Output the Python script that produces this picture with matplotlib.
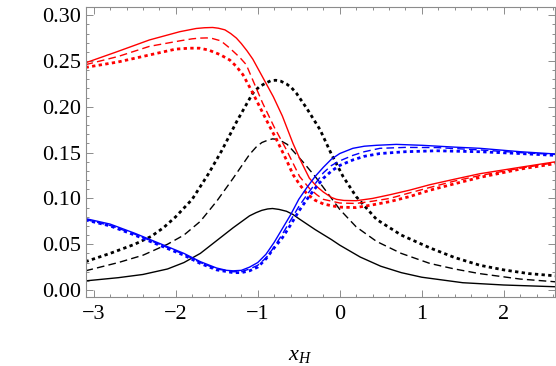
import numpy as np
import matplotlib
matplotlib.use("Agg")
import matplotlib.pyplot as plt
from matplotlib.ticker import MultipleLocator

# =========================
# DATA
# =========================

# black curves
bk_solid_x = [-3.1, -2.7, -2.4, -2.1, -1.9, -1.7, -1.5, -1.3, -1.1, -1.02, -0.95, -0.88, -0.82,
              -0.74, -0.65, -0.57, -0.5, -0.3, -0.1, 0.0, 0.25, 0.5, 0.75, 1.0, 1.5, 2.0, 2.63]
bk_solid_y = [0.010, 0.0135, 0.017, 0.023, 0.030, 0.040, 0.054, 0.068, 0.081, 0.0845, 0.087, 0.0885, 0.089,
              0.088, 0.086, 0.0825, 0.078, 0.066, 0.055, 0.049, 0.036, 0.026, 0.019, 0.014, 0.008, 0.0055, 0.0036]

bk_dash_x = [-3.1, -2.7, -2.4, -2.1, -1.9, -1.7, -1.5, -1.3, -1.1, -1.02, -0.95, -0.88, -0.82,
             -0.76, -0.7, -0.64, -0.55, -0.45, -0.3, -0.15, 0.0, 0.2, 0.45, 0.75, 1.1, 1.4,
             1.7, 2.2, 2.63]
bk_dash_y = [0.021, 0.030, 0.038, 0.050, 0.060, 0.075, 0.097, 0.122, 0.148, 0.156, 0.161, 0.1635, 0.165,
             0.1645, 0.162, 0.159, 0.150, 0.140, 0.124, 0.106, 0.088, 0.069, 0.053, 0.040, 0.029, 0.023,
             0.018, 0.012, 0.009]

bk_dot_x = [-3.1, -2.8, -2.5, -2.3, -2.15, -2.0, -1.8, -1.6, -1.44, -1.25, -1.06, -0.98, -0.9,
            -0.84, -0.78, -0.72, -0.65, -0.59, -0.53, -0.4, -0.24, -0.1, 0.04, 0.2, 0.45, 0.75,
            1.1, 1.4, 1.71, 2.0, 2.3, 2.63]
bk_dot_y = [0.031, 0.040, 0.050, 0.0585, 0.068, 0.080, 0.099, 0.127, 0.152, 0.185, 0.215, 0.222, 0.226,
            0.2285, 0.229, 0.228, 0.225, 0.221, 0.215, 0.198, 0.175, 0.148, 0.124, 0.102, 0.077, 0.060,
            0.046, 0.0355, 0.027, 0.022, 0.018, 0.0155]

# red curves
rd_solid_x = [-3.1, -2.72, -2.32, -1.95, -1.75, -1.65, -1.55, -1.48, -1.4, -1.33, -1.26, -1.2,
              -1.13, -1.06, -0.95, -0.81, -0.7, -0.57, -0.47, -0.37, -0.28, -0.2, -0.1, -0.04,
              0.05, 0.2, 0.4, 0.61, 0.85, 1.1, 1.4, 1.71, 2.2, 2.63]
rd_solid_y = [0.248, 0.260, 0.273, 0.282, 0.2855, 0.2863, 0.2866, 0.2858, 0.284, 0.280, 0.275, 0.269,
              0.261, 0.252, 0.234, 0.211, 0.190, 0.160, 0.140, 0.122, 0.113, 0.107, 0.101, 0.099,
              0.0978, 0.0975, 0.100, 0.104, 0.109, 0.115, 0.121, 0.127, 0.134, 0.140]

rd_dash_x = [-3.1, -2.7, -2.32, -1.95, -1.8, -1.71, -1.62, -1.55, -1.45, -1.34, -1.22, -1.14,
             -1.05, -0.94, -0.8, -0.65, -0.49, -0.37, -0.28, -0.2, -0.1, 0.0, 0.2, 0.4, 0.61,
             0.85, 1.1, 1.4, 1.71, 2.2, 2.63]
rd_dash_y = [0.246, 0.255, 0.266, 0.272, 0.2742, 0.275, 0.2752, 0.2745, 0.272, 0.264, 0.254, 0.246,
             0.227, 0.204, 0.178, 0.153, 0.124, 0.111, 0.104, 0.099, 0.097, 0.095, 0.0945, 0.097, 0.100,
             0.106, 0.112, 0.119, 0.125, 0.133, 0.139]

rd_dot_x = [-3.1, -2.7, -2.3, -2.0, -1.83, -1.71, -1.6, -1.46, -1.34, -1.26, -1.18, -1.06, -0.92,
            -0.77, -0.65, -0.57, -0.48, -0.4, -0.3, -0.2, -0.1, 0.0, 0.2, 0.4, 0.61, 0.85, 1.1,
            1.4, 1.71, 2.2, 2.63]
rd_dot_y = [0.243, 0.249, 0.257, 0.263, 0.264, 0.264, 0.262, 0.257, 0.251, 0.244, 0.235, 0.215, 0.190,
            0.164, 0.142, 0.126, 0.114, 0.105, 0.098, 0.094, 0.092, 0.0905, 0.090, 0.093, 0.0965, 0.102, 0.109,
            0.116, 0.123, 0.132, 0.138]

# blue curves
bl_solid_x = [-3.1, -2.8, -2.5, -2.2, -1.9, -1.7, -1.5, -1.38, -1.3, -1.2, -1.1, -1.0, -0.9,
              -0.8, -0.7, -0.6, -0.5, -0.4, -0.3, -0.2, -0.1, 0.0, 0.16, 0.3, 0.45, 0.69,
              1.0, 1.4, 1.71, 2.2, 2.63]
bl_solid_y = [0.078, 0.072, 0.062, 0.051, 0.040, 0.031, 0.024, 0.0215, 0.021, 0.0215, 0.025, 0.030, 0.039,
              0.052, 0.067, 0.082, 0.099, 0.112, 0.124, 0.134, 0.143, 0.149, 0.1547, 0.157, 0.158, 0.159,
              0.158, 0.156, 0.1547, 0.151, 0.1485]

bl_dash_x = [-3.1, -2.8, -2.5, -2.2, -1.9, -1.7, -1.5, -1.3, -1.2, -1.1, -1.0, -0.9, -0.8,
             -0.7, -0.6, -0.5, -0.4, -0.3, -0.2, -0.1, 0.0, 0.16, 0.3, 0.49, 0.8, 1.18,
             1.7, 2.2, 2.63]
bl_dash_y = [0.077, 0.0705, 0.061, 0.050, 0.039, 0.030, 0.023, 0.020, 0.020, 0.023, 0.027, 0.035, 0.047,
             0.061, 0.076, 0.091, 0.104, 0.116, 0.128, 0.136, 0.141, 0.147, 0.151, 0.1547, 0.1557, 0.1555,
             0.153, 0.150, 0.148]

bl_dot_x = [-3.1, -2.8, -2.5, -2.2, -1.9, -1.7, -1.5, -1.3, -1.2, -1.1, -1.0, -0.9, -0.8,
            -0.7, -0.6, -0.5, -0.4, -0.3, -0.2, -0.1, 0.0, 0.16, 0.3, 0.49, 0.8, 1.18,
            1.7, 2.2, 2.63]
bl_dot_y = [0.0765, 0.070, 0.060, 0.049, 0.038, 0.029, 0.022, 0.019, 0.019, 0.021, 0.025, 0.034, 0.046,
            0.057, 0.071, 0.086, 0.099, 0.111, 0.122, 0.130, 0.136, 0.142, 0.146, 0.149, 0.151, 0.152,
            0.151, 0.149, 0.147]

x_ticks = [-3, -2, -1, 0, 1, 2]
y_ticks = [0.00, 0.05, 0.10, 0.15, 0.20, 0.25, 0.30]

# =========================
# STYLE
# =========================

plt.rcParams['font.family'] = ['Liberation Serif', 'DejaVu Serif']
plt.rcParams['mathtext.fontset'] = 'custom'
plt.rcParams['mathtext.rm'] = 'Liberation Serif'
plt.rcParams['mathtext.it'] = 'Liberation Serif:italic'

frame_col = '#8c8c8c'
DASH = (0, (5.5, 3.0))
DOT = (0, (1.2, 1.2))

fig = plt.figure(figsize=(5.56, 3.66), dpi=100)
ax = fig.add_axes([0.1538, 0.1885, 0.8452, 0.7925])

# =========================
# CURVES
# =========================

ax.plot(bk_solid_x, bk_solid_y, color='black', lw=1.0)
ax.plot(bk_dash_x, bk_dash_y, color='black', lw=1.0, linestyle=DASH)
ax.plot(bk_dot_x, bk_dot_y, color='black', lw=2.0, linestyle=DOT)

ax.plot(rd_solid_x, rd_solid_y, color='#ff0000', lw=1.0)
ax.plot(rd_dash_x, rd_dash_y, color='#ff0000', lw=1.0, linestyle=DASH)
ax.plot(rd_dot_x, rd_dot_y, color='#ff0000', lw=2.0, linestyle=DOT)

ax.plot(bl_solid_x, bl_solid_y, color='#0000ff', lw=1.0)
ax.plot(bl_dash_x, bl_dash_y, color='#0000ff', lw=1.0, linestyle=DASH)
ax.plot(bl_dot_x, bl_dot_y, color='#0000ff', lw=2.0, linestyle=DOT)

# =========================
# AXES / FRAME
# =========================

ax.set_xlim(-3.1, 2.63)
ax.set_ylim(-0.0076, 0.309)

ax.set_xticks(x_ticks)
ax.set_xticklabels([f"{t}".replace('-', '\u2212') for t in x_ticks])
ax.set_yticks(y_ticks)
ax.set_yticklabels([f"{t:.2f}" for t in y_ticks])
ax.xaxis.set_minor_locator(MultipleLocator(0.2))
ax.yaxis.set_minor_locator(MultipleLocator(0.01))

for s in ax.spines.values():
    s.set_color(frame_col)
    s.set_linewidth(0.8)

ax.tick_params(which='both', direction='in', top=True, right=True,
               color=frame_col, width=0.7, labelsize=16, labelcolor='black')
ax.tick_params(which='major', length=5)
ax.tick_params(which='minor', length=2.5)
ax.tick_params(axis='x', pad=6)
ax.tick_params(axis='y', pad=3)

ax.set_xlabel(r"$x_H$", fontsize=16)
ax.xaxis.set_label_coords(0.456, -0.20)
ax.xaxis.label.set_va('center')

fig.savefig("out.png", dpi=100)
